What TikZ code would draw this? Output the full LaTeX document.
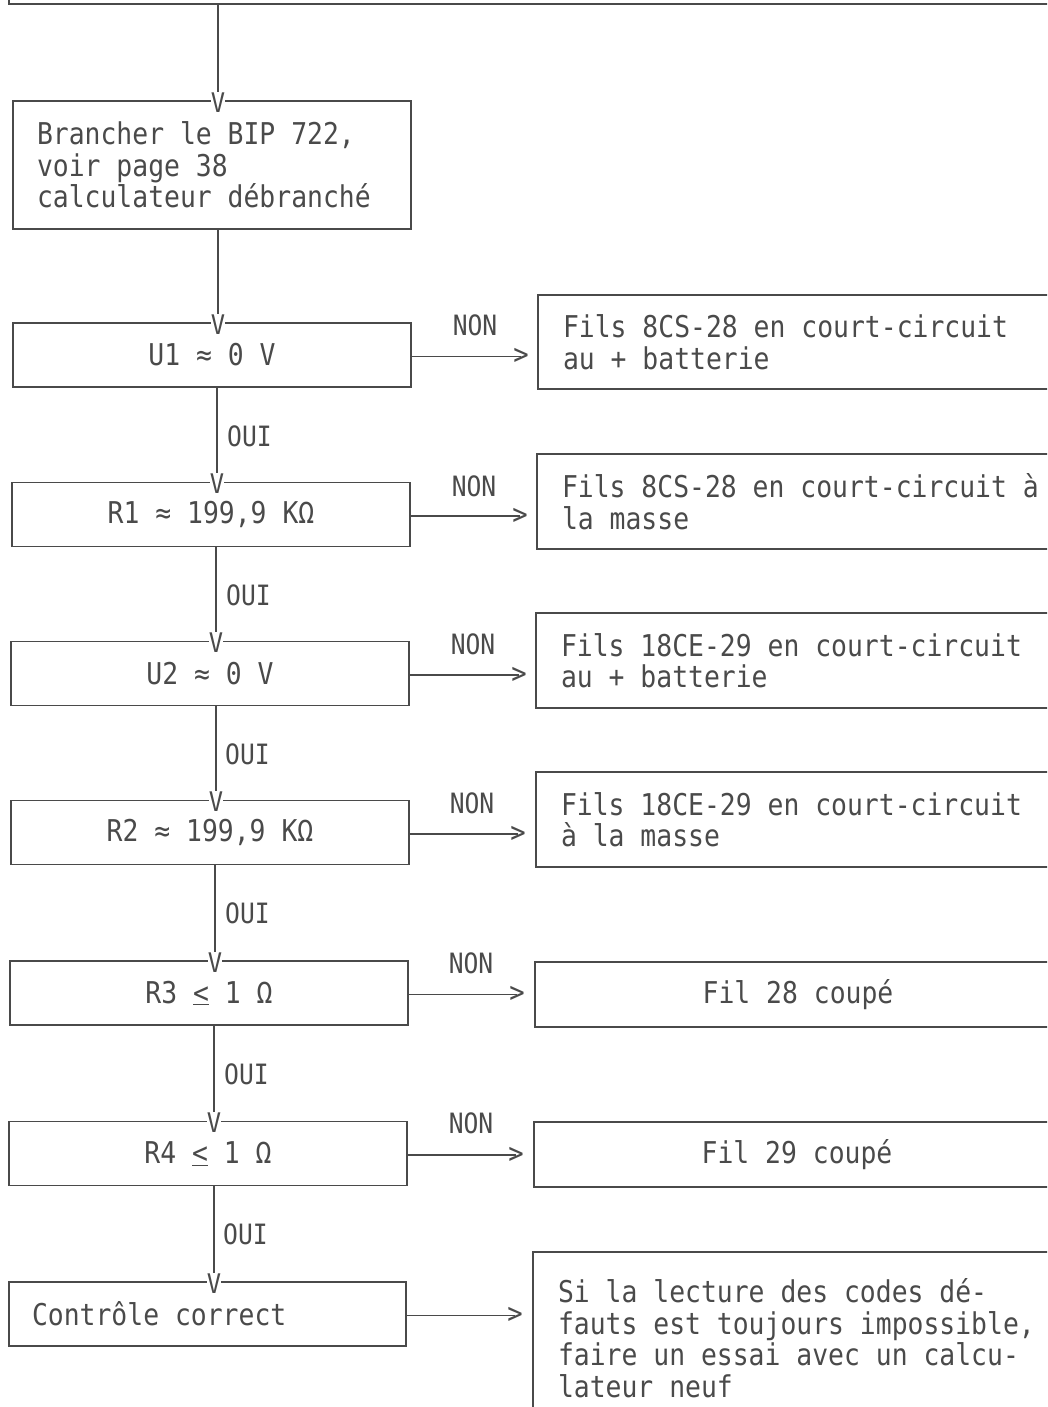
\documentclass[tikz,border=0pt]{standalone}
\usepackage{fontspec}
\newfontfamily\mono[FakeStretch=0.88]{DejaVu Sans Mono}
\definecolor{ink}{HTML}{4A4A4A}
\begin{document}
\begin{tikzpicture}[x=1pt,y=-1pt,
  every node/.style={text=ink},
  txt/.style={font=\mono\fontsize{30}{31.5}\selectfont},
  multi/.style={execute at begin node={\spaceskip=0pt\xspaceskip=0pt}},
  lbox/.style={txt, draw=ink, line width=1.9pt, inner sep=0pt, minimum width=398pt, minimum height=64pt},
  rbox/.style={txt, draw=ink, line width=1.9pt, inner sep=0pt},
  vtip/.style={font=\mono\fontsize{27}{27}\selectfont, fill=white, inner sep=0.3pt},
  gtip/.style={font=\mono\fontsize{29}{29}\selectfont, inner sep=0pt},
  lab/.style={font=\mono\fontsize{28}{28}\selectfont, inner sep=0pt},
  conn/.style={draw=ink, line width=1.9pt}
]
\useasboundingbox (0,0) rectangle (1047,1407);
\clip (0,0) rectangle (1047,1407);

% top box (only its bottom is visible)
\node[rbox, anchor=south west, minimum width=1070pt, minimum height=100pt] (top) at (8,5) {};

% left column boxes
\node[lbox, multi, minimum height=128pt, text width=350pt, align=left] (b0) at (212,165)
  {Brancher le BIP 722,\\voir page 38\\calculateur débranché};
\node[lbox] (b1) at (212,355) {U1 ≈ 0 V};
\node[lbox] (b2) at (211,514.5) {R1 ≈ 199,9 KΩ};
\node[lbox] (b3) at (210,673.5) {U2 ≈ 0 V};
\node[lbox] (b4) at (210,832.5) {R2 ≈ 199,9 KΩ};
\node[lbox] (b5) at (209,993) {R3 \underline{<} 1 Ω};
\node[lbox] (b6) at (208,1153.5) {R4 \underline{<} 1 Ω};
\node[lbox, multi, minimum width=397pt, text width=351pt, align=left] (b7) at (207.5,1314) {Contrôle correct};

% right column boxes
\node[rbox, multi, minimum width=532pt, minimum height=94pt, text width=482pt, align=left] (r1) at (804,342)
  {Fils 8CS-28 en court-circuit\\au + batterie};
\node[rbox, multi, minimum width=533pt, minimum height=95pt, text width=483pt, align=left] (r2) at (803.5,501.5)
  {Fils 8CS-28 en court-circuit à\\la masse};
\node[rbox, multi, minimum width=534pt, minimum height=95pt, text width=484pt, align=left] (r3) at (803,660.5)
  {Fils 18CE-29 en court-circuit\\au + batterie};
\node[rbox, multi, minimum width=534pt, minimum height=95pt, text width=484pt, align=left] (r4) at (803,819.5)
  {Fils 18CE-29 en court-circuit\\à la masse};
\node[rbox, minimum width=526pt, minimum height=65pt] (r5) at (798,994.5) {Fil 28 coupé};
\node[rbox, minimum width=526pt, minimum height=65pt] (r6) at (797,1154.5) {Fil 29 coupé};
\node[rbox, multi, minimum width=537pt, minimum height=172pt, text width=487pt, align=left] (r7) at (801.5,1338)
  {Si la lecture des codes dé-\\fauts est toujours impossible,\\faire un essai avec un calcu-\\lateur neuf};

% V arrow heads on box tops
\node[vtip] (v0) at (218,102.5) {V};
\node[vtip] (v1) at (218,324.5) {V};
\node[vtip] (v2) at (217,483.5) {V};
\node[vtip] (v3) at (216,642.5) {V};
\node[vtip] (v4) at (216,801.5) {V};
\node[vtip] (v5) at (215,962.5) {V};
\node[vtip] (v6) at (214,1122.5) {V};
\node[vtip] (v7) at (214,1283.5) {V};

% > arrow heads
\node[gtip] (g1) at (521,356.5) {>};
\node[gtip] (g2) at (520,516) {>};
\node[gtip] (g3) at (519,675) {>};
\node[gtip] (g4) at (518,834) {>};
\node[gtip] (g5) at (517,994.5) {>};
\node[gtip] (g6) at (516,1155) {>};
\node[gtip] (g7) at (515,1315.5) {>};

% vertical connectors
\draw[conn] (top.south -| v0) -- (v0.north);
\draw[conn] (b0.south -| v1) -- (v1.north);
\draw[conn] (b1.south -| v2) -- (v2.north);
\draw[conn] (b2.south -| v3) -- (v3.north);
\draw[conn] (b3.south -| v4) -- (v4.north);
\draw[conn] (b4.south -| v5) -- (v5.north);
\draw[conn] (b5.south -| v6) -- (v6.north);
\draw[conn] (b6.south -| v7) -- (v7.north);

% horizontal connectors
\draw[conn] (b1.east |- g1) -- (g1.center);
\draw[conn] (b2.east |- g2) -- (g2.center);
\draw[conn] (b3.east |- g3) -- (g3.center);
\draw[conn] (b4.east |- g4) -- (g4.center);
\draw[conn] (b5.east |- g5) -- (g5.center);
\draw[conn] (b6.east |- g6) -- (g6.center);
\draw[conn] (b7.east |- g7) -- (g7.center);

% OUI labels
\node[lab, anchor=west] (o1) at (227,436) {OUI};
\node[lab, anchor=west] (o2) at (226,595) {OUI};
\node[lab, anchor=west] (o3) at (225,754) {OUI};
\node[lab, anchor=west] (o4) at (225,913) {OUI};
\node[lab, anchor=west] (o5) at (224,1074) {OUI};
\node[lab, anchor=west] (o6) at (223,1234) {OUI};

% NON labels
\node[lab] (n1) at (475,325) {NON};
\node[lab] (n2) at (474,486) {NON};
\node[lab] (n3) at (473,644) {NON};
\node[lab] (n4) at (472,803) {NON};
\node[lab] (n5) at (471,963) {NON};
\node[lab] (n6) at (471,1123) {NON};
\end{tikzpicture}
\end{document}
